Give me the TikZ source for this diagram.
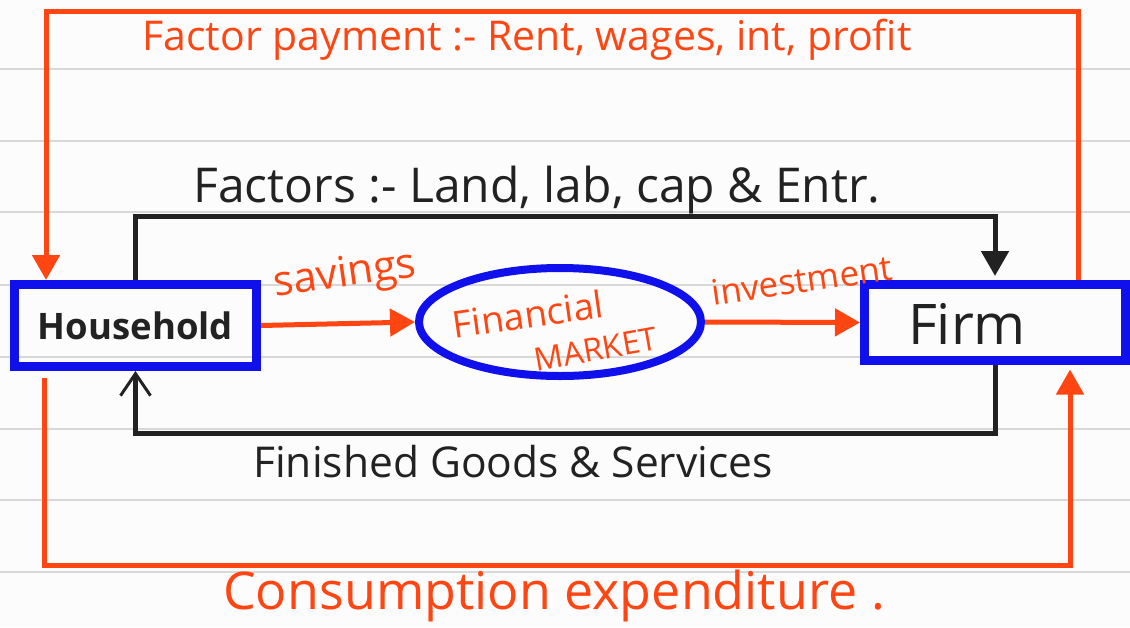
\documentclass[tikz,border=0pt]{standalone}
\usepackage{fontspec}
\setmainfont{Open Sans}
\usetikzlibrary{arrows.meta,shapes.geometric}
\definecolor{ink}{RGB}{34,34,34}
\definecolor{redink}{RGB}{255,70,18}
\definecolor{blueink}{RGB}{16,16,236}
\definecolor{rulegray}{RGB}{216,216,216}
\definecolor{paper}{RGB}{252,252,252}
\begin{document}
\begin{tikzpicture}[x=1pt,y=-1pt,
  box/.style={draw=blueink,line width=9pt,rectangle,inner sep=0pt},
  redline/.style={draw=redink,line width=5pt},
  blackline/.style={draw=ink,line width=5pt},
  solidtip/.style={-{Triangle[length=25pt,width=27pt]}},
  opentip/.style={-{Straight Barb[length=22pt,width=30pt,line width=3pt]}},
  redtext/.style={text=redink,inner sep=0pt},
  blacktext/.style={text=ink,inner sep=0pt},
  fs/.style={font=\fontsize{#1}{#1}\selectfont},
  ]
% ruled paper
\fill[paper] (0,0) rectangle (1130,627);
\useasboundingbox (0,0) rectangle (1130,627);
\foreach \yy in {69,141,212,285,357,429,500,572}
  \draw[rulegray,line width=2pt] (0,\yy) -- (1130,\yy);

% sectors
\node[box,text=ink,font=\fontsize{36.5}{36.5}\selectfont\bfseries,
      minimum width=242pt,minimum height=82pt] (household) at (135.5,325.5) {Household};
\node[box,minimum width=261pt,minimum height=76pt] (firm) at (995,322.5) {};
\node[blacktext,fs=56] (firmtext) at (967,324) {Firm};
\node[draw=blueink,line width=8pt,ellipse,inner sep=0pt,
      minimum width=282pt,minimum height=108pt] (market) at (560,322) {};
\node[redtext,fs=37,rotate=8] (fin) at (528,314) {Financial};
\node[redtext,fs=32,rotate=10] (mkt) at (596,349) {MARKET};

% corner points of the outer loops
\coordinate (tr) at (1078,11);
\coordinate (tl) at (46,11);
\coordinate (bl) at (44,378);
\coordinate (br) at (1070,565);

% factor payments (firm to household)
\draw[redline,solidtip] (firm.north -| tr) -- (tr) -- (tl) -- (household.north -| tl);
% factors of production (household to firm)
\draw[blackline,solidtip,shorten >=4pt] (household.north) -- ++(0,-63.5) -| (firm.north);
% goods and services (firm to household)
\draw[blackline,opentip] (firm.south) -- ++(0,68.5) -| (household.south);
% consumption expenditure (household to firm)
\draw[redline,solidtip,shorten >=4.5pt] (bl) |- (br) -- (firm.south -| br);
% savings and investment
\draw[redline,solidtip] (household.east) -- (market.west);
\draw[redline,solidtip] (market.east) -- (firm.west);

% labels
\node[redtext,fs=41] (lpay) at (527,40) {Factor payment :- Rent, wages, int, profit};
\node[blacktext,fs=48] (lfac) at (537,190) {Factors :- Land, lab, cap \& Entr.};
\node[redtext,fs=42,rotate=8] (lsav) at (345,276) {savings};
\node[redtext,fs=35,rotate=8] (linv) at (802,280) {investment};
\node[blacktext,fs=42.5] (lgoods) at (513,462) {Finished Goods \& Services};
\node[redtext,fs=52] (lcons) at (554,596) {Consumption expenditure .};
\end{tikzpicture}
\end{document}
